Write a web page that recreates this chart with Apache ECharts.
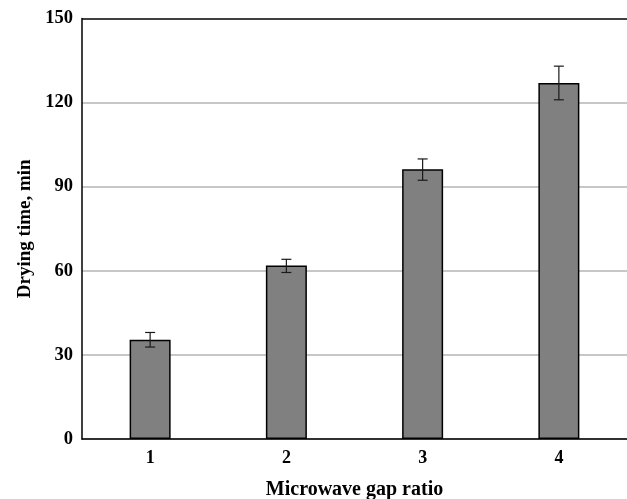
<!DOCTYPE html>
<html>
<head>
<meta charset="utf-8">
<script src="https://cdn.jsdelivr.net/npm/echarts@6/dist/echarts.min.js"></script>
<style>html,body{margin:0;padding:0;background:#fff}#c{width:627px;height:499px}</style>
</head>
<body>
<div id="c"></div>
<script>
const categories = ['1', '2', '3', '4'];
const dryingTime = [35.4, 61.9, 96.2, 127];
const errLow = [32.8, 59.4, 92.3, 121];
const errHigh = [38.0, 64.1, 99.9, 133];
const yTicks = [0, 30, 60, 90, 120, 150];

const chart = echarts.init(document.getElementById('c'));
const font = 'Liberation Serif, Times New Roman, serif';
chart.setOption({
  animation: false,
  grid: { left: 82, right: 0, top: 18.5, bottom: 60, containLabel: false, outerBoundsMode: 'none' },
  xAxis: {
    type: 'category',
    data: categories,
    name: 'Microwave gap ratio',
    nameLocation: 'middle',
    nameGap: 41,
    nameTextStyle: { fontFamily: font, fontWeight: 'bold', fontSize: 20, color: '#000' },
    axisLine: { lineStyle: { color: '#000', width: 1.5 } },
    axisTick: { show: false },
    axisLabel: { fontFamily: font, fontWeight: 'bold', fontSize: 18, color: '#000', margin: 10 }
  },
  yAxis: {
    type: 'value',
    min: yTicks[0], max: yTicks[yTicks.length - 1], interval: 30,
    name: 'Drying time, min',
    nameLocation: 'middle',
    nameGap: 47,
    nameTextStyle: { fontFamily: font, fontWeight: 'bold', fontSize: 19, color: '#000' },
    axisLine: { show: true, lineStyle: { color: '#000', width: 1.5 } },
    axisTick: { show: false },
    axisLabel: { fontFamily: font, fontWeight: 'bold', fontSize: 18.5, color: '#000', margin: 9 },
    splitLine: {
      show: true,
      lineStyle: {
        width: 1.5,
        color: ['#b4b4b4', '#b4b4b4', '#b4b4b4', '#b4b4b4', '#b4b4b4', '#000']
      }
    }
  },
  series: [
    {
      type: 'bar',
      data: dryingTime,
      barWidth: 41,
      itemStyle: { color: '#808080', borderColor: '#000', borderWidth: 1.5 },
      z: 2
    },
    {
      type: 'custom',
      z: 3,
      data: categories.map((c, i) => [i, errLow[i], errHigh[i]]),
      renderItem: function (params, api) {
        const x = api.value(0);
        const lo = api.coord([x, api.value(1)]);
        const hi = api.coord([x, api.value(2)]);
        const hw = 5;
        const st = { stroke: '#1a1a1a', lineWidth: 1.2 };
        return {
          type: 'group',
          children: [
            { type: 'line', shape: { x1: lo[0], y1: lo[1], x2: hi[0], y2: hi[1] }, style: st },
            { type: 'line', shape: { x1: lo[0] - hw, y1: lo[1], x2: lo[0] + hw, y2: lo[1] }, style: st },
            { type: 'line', shape: { x1: hi[0] - hw, y1: hi[1], x2: hi[0] + hw, y2: hi[1] }, style: st }
          ]
        };
      }
    }
  ]
});
</script>
</body>
</html>
